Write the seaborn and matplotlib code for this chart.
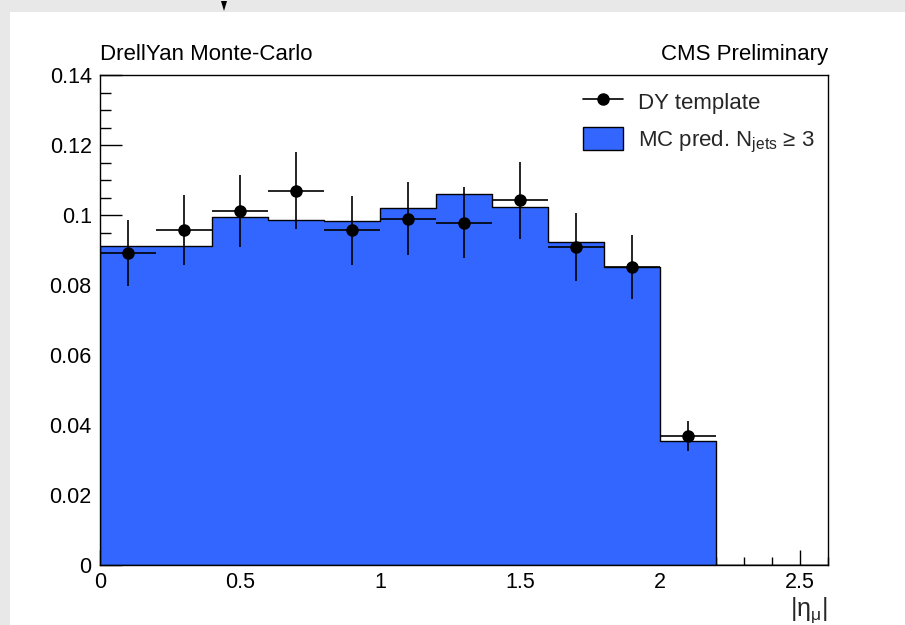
import numpy as np
import pandas as pd
import matplotlib
matplotlib.use("Agg")
import matplotlib.pyplot as plt
from matplotlib.patches import Rectangle, Patch, Polygon
from matplotlib.lines import Line2D
from matplotlib.ticker import MultipleLocator
import seaborn as sns

# ---- data ----
bin_edges = [0.0, 0.2, 0.4, 0.6, 0.8, 1.0, 1.2, 1.4, 1.6, 1.8, 2.0, 2.2, 2.4, 2.6]
mc_pred = [0.0911, 0.0911, 0.0993, 0.0986, 0.0982, 0.1019, 0.1060, 0.1024,
           0.0924, 0.0851, 0.0355, 0.0, 0.0]
dy_template = [0.0892, 0.0956, 0.1012, 0.1069, 0.0956, 0.0990, 0.0978, 0.1042,
               0.0908, 0.0851, 0.0369]
dy_error = [0.0094, 0.0100, 0.0103, 0.0110, 0.0098, 0.0103, 0.0102, 0.0110,
            0.0097, 0.0091, 0.0042]
x_ticks = [0, 0.5, 1, 1.5, 2, 2.5]
x_ticklabels = ["0", "0.5", "1", "1.5", "2", "2.5"]
y_ticks = [0, 0.02, 0.04, 0.06, 0.08, 0.1, 0.12, 0.14]
y_ticklabels = ["0", "0.02", "0.04", "0.06", "0.08", "0.1", "0.12", "0.14"]

centers = [(bin_edges[i] + bin_edges[i + 1]) / 2 for i in range(len(bin_edges) - 1)]
mc_df = pd.DataFrame({"x": centers, "w": mc_pred})
dy_df = pd.DataFrame({"x": centers[:len(dy_template)], "y": dy_template, "err": dy_error})

sns.set_theme(style="white")
plt.rcParams["font.family"] = ["Liberation Sans", "DejaVu Sans"]
plt.rcParams["mathtext.fontset"] = "custom"
plt.rcParams["mathtext.rm"] = "Liberation Sans"
plt.rcParams["mathtext.it"] = "Liberation Sans:italic"
plt.rcParams["mathtext.sf"] = "Liberation Sans"

W, H = 905, 625
fig = plt.figure(figsize=(W / 100, H / 100), dpi=100, facecolor="#e8e8e8")
fig.patches.append(Rectangle((10 / W, 0), 1 - 10 / W, 1 - 12 / H, transform=fig.transFigure,
                             facecolor="white", edgecolor="none", zorder=-10))
fig.patches.append(Polygon([[221 / W, 1 - 1 / H], [227 / W, 1 - 1 / H], [224 / W, 1 - 11 / H]],
                           closed=True, transform=fig.transFigure, facecolor="black",
                           edgecolor="none", zorder=-9))

ax = fig.add_axes([100 / W, (H - 565) / H, 728 / W, 490 / H])
ax.set_zorder(5)
ax.set_facecolor("white")

blue = "#3366ff"
sns.histplot(data=mc_df, x="x", weights="w", bins=bin_edges, element="step", fill=True,
             color=blue, alpha=1.0, edgecolor="black", linewidth=1.0, ax=ax, zorder=2)
for coll in ax.collections:
    coll.set_facecolor(blue)
    coll.set_edgecolor("black")
    coll.set_linewidth(1.0)

ax.errorbar(dy_df["x"], dy_df["y"], yerr=dy_df["err"], xerr=0.1, fmt="o", color="black",
            markersize=8, elinewidth=1.2, capsize=0, zorder=5)

ax.set_xlim(0, 2.6)
ax.set_ylim(0, 0.14)
ax.set_xticks(x_ticks)
ax.set_xticklabels(x_ticklabels)
ax.set_yticks(y_ticks)
ax.set_yticklabels(y_ticklabels)
ax.xaxis.set_minor_locator(MultipleLocator(0.1))
ax.yaxis.set_minor_locator(MultipleLocator(0.005))
ax.tick_params(axis="x", which="major", direction="in", length=11, width=1, labelsize=15.5,
               pad=5, color="black", labelcolor="black", top=False, bottom=True)
ax.tick_params(axis="x", which="minor", direction="in", length=5.5, width=1, color="black",
               top=False, bottom=True)
ax.tick_params(axis="y", which="major", direction="in", length=16, width=1, labelsize=15.5,
               pad=6, color="black", labelcolor="black", left=True, right=False)
ax.tick_params(axis="y", which="minor", direction="in", length=8, width=1, color="black",
               left=True, right=False)
for s in ax.spines.values():
    s.set_visible(True)
    s.set_color("black")
    s.set_linewidth(1.0)

ax.set_ylabel("")
ax.set_xlabel(r"|η$_{\mathrm{μ}}$|", fontsize=18, ha="right", va="top")
ax.xaxis.set_label_coords(1.0, -(595 - 565) / 490)

ax.text(0.0, 1 + 15 / 490, "DrellYan Monte-Carlo", transform=ax.transAxes, ha="left",
        va="baseline", fontsize=16, color="black")
ax.text(1.0, 1 + 15 / 490, "CMS Preliminary", transform=ax.transAxes, ha="right",
        va="baseline", fontsize=16, color="black")

h_data = Line2D([0], [0], color="black", marker="o", markersize=8, linewidth=1.2)
h_mc = Patch(facecolor=blue, edgecolor="black", linewidth=1.0)
leg = ax.legend([h_data, h_mc], ["DY template", r"MC pred. N$_{\mathrm{jets}}$ ≥ 3"],
                loc="upper left", bbox_to_anchor=(583 / W, 1 - 90 / H),
                bbox_transform=fig.transFigure, frameon=False, fontsize=16,
                handlelength=1.8, handleheight=1.2, handletextpad=0.68, labelspacing=0.6,
                borderpad=0, borderaxespad=0)

fig.savefig("out.png", dpi=100, facecolor=fig.get_facecolor())
